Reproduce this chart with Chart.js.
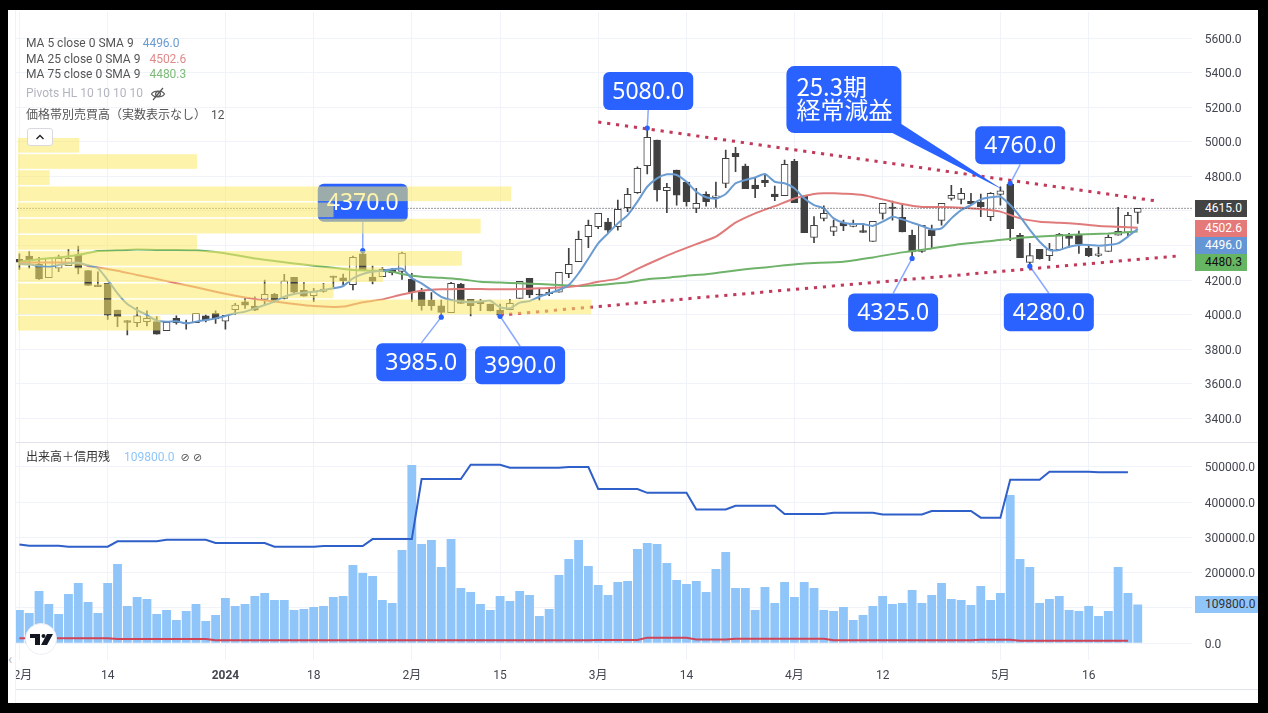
<!DOCTYPE html>
<html lang="ja">
<head>
<meta charset="utf-8">
<title>chart</title>
<script src="https://cdn.jsdelivr.net/npm/chart.js@4/dist/chart.umd.min.js"></script>
<style>
  html, body { margin: 0; padding: 0; background: #fff; width: 1268px; height: 713px; overflow: hidden; }
  canvas { position: absolute; left: 0; }
  #priceChart { top: 0; }
  #volumeChart { top: 433px; }
  .abs { position: absolute; white-space: nowrap; }
  .legend { font: 12px Roboto, sans-serif; color: #555; left: 26px; line-height: 14px; }
  .jp { font-family: 'Noto Sans CJK JP', sans-serif; }
  .tag { left: 1195px; width: 42px; padding-left: 10px; height: 17px; font: 12px/17px Roboto, sans-serif; color: #fff; }
  .rule { background: #e0e3eb; }
  .frame { background: #000; }
</style>
</head>
<body>
<canvas id="priceChart" width="1268" height="460"></canvas>
<canvas id="volumeChart" width="1268" height="256"></canvas>

<div class="abs rule" style="left:16px;top:442px;width:1242px;height:1px"></div>
<div class="abs rule" style="left:16px;top:689px;width:1242px;height:1px"></div>

<div class="abs legend" style="top:36px">MA 5 close 0 SMA 9 <span style="color:#6a9bd1;margin-left:6px">4496.0</span></div>
<div class="abs legend" style="top:52px">MA 25 close 0 SMA 9 <span style="color:#e08a8a;margin-left:6px">4502.6</span></div>
<div class="abs legend" style="top:67px">MA 75 close 0 SMA 9 <span style="color:#7dbb78;margin-left:6px">4480.3</span></div>
<div class="abs legend" style="top:86px;color:#b2b5be">Pivots HL 10 10 10 10</div>
<svg class="abs" style="left:150px;top:86px" width="16" height="16" viewBox="0 0 16 16" fill="none" stroke="#555" stroke-width="1.2">
  <path d="M1.5 8 C4 4 12 4 14.5 8 C12 12 4 12 1.5 8 Z"/><circle cx="8" cy="8" r="2.4"/><path d="M3 14 L13 2"/>
</svg>
<div class="abs legend jp" style="top:107px">価格帯別売買高（実数表示なし）<span style="font-family:Roboto;margin-left:5px">12</span></div>
<div class="abs" style="left:27px;top:128px;width:26px;height:18px;border:1px solid #d8dae0;border-radius:3px;background:#fff;box-sizing:border-box">
  <svg width="24" height="16" viewBox="0 0 24 16" fill="none" stroke="#222" stroke-width="1.4"><path d="M8.5 10 L12 6.5 L15.5 10"/></svg>
</div>
<div class="abs legend jp" style="top:449px;color:#333">出来高＋信用残<span style="font-family:Roboto;color:#90c5f9;margin-left:14px">109800.0</span><span style="font-family:'DejaVu Sans';font-size:11px;color:#555;margin-left:6px">⊘ ⊘</span></div>

<div class="abs tag" style="top:200px;background:#434343">4615.0</div>
<div class="abs tag" style="top:220px;background:#e57878">4502.6</div>
<div class="abs tag" style="top:237px;background:#6495d4">4496.0</div>
<div class="abs tag" style="top:254px;background:#66b563;color:#111">4480.3</div>
<div class="abs tag" style="top:596px;left:1195px;width:53px;background:#90c5f9;color:#333">109800.0</div>

<div class="abs" style="left:8px;top:10px;width:8px;height:693px;background:#fff;border-right:1px solid #f0f3fa;box-sizing:border-box"></div>
<div class="abs" style="left:8px;top:651px;font:14px Roboto,sans-serif;color:#b2b5be">‹</div>

<svg class="abs" style="left:25px;top:623px" width="32" height="32" viewBox="0 0 32 32">
  <circle cx="16" cy="16" r="15.5" fill="#fff" stroke="#eceef2"/>
  <path d="M5 11 H15 V22 H10 V15 H5 Z" fill="#131722"/><circle cx="18.5" cy="13" r="2" fill="#131722"/>
  <path d="M22 11 H28 L22 22 H16 Z" fill="#131722"/>
</svg>

<div class="abs frame" style="left:0;top:0;width:1268px;height:10px"></div>
<div class="abs frame" style="left:0;top:703px;width:1268px;height:10px"></div>
<div class="abs frame" style="left:0;top:0;width:8px;height:713px"></div>
<div class="abs frame" style="left:1258px;top:0;width:10px;height:713px"></div>

<script>
const categories = [
  '12/1','12/4','12/5','12/6','12/7','12/8','12/11','12/12','12/13','12/14','12/15','12/18','12/19','12/20','12/21','12/22','12/25','12/26','12/27','12/28','12/29',
  '1/4','1/5','1/9','1/10','1/11','1/12','1/15','1/16','1/17','1/18','1/19','1/22','1/23','1/24','1/25','1/26','1/29','1/30','1/31',
  '2/1','2/2','2/5','2/6','2/7','2/8','2/9','2/13','2/14','2/15','2/16','2/19','2/20','2/21','2/22','2/26','2/27','2/28','2/29',
  '3/1','3/4','3/5','3/6','3/7','3/8','3/11','3/12','3/13','3/14','3/15','3/18','3/19','3/21','3/22','3/25','3/26','3/27','3/28','3/29',
  '4/1','4/2','4/3','4/4','4/5','4/8','4/9','4/10','4/11','4/12','4/15','4/16','4/17','4/18','4/19','4/22','4/23','4/24','4/25','4/26','4/30',
  '5/1','5/2','5/7','5/8','5/9','5/10','5/13','5/14','5/15','5/16','5/17','5/20','5/21','5/22','5/23',
  '5/24','5/27','5/28','5/29','5/30'
];
const tickDates = ['12/1','12/14','1/4','1/18','2/1','2/15','3/1','3/14','4/1','4/12','5/1','5/16'];
const tickNames = ['12月','14','2024','18','2月','15','3月','14','4月','12','5月','16'];
const priceTicks = [3400,3600,3800,4000,4200,4400,4600,4800,5000,5200,5400,5600];
const volumeTicks = [0,100000,200000,300000,400000,500000];

const opens = [
  4320,4339,4293,4213,4268,4283,4347,4254,4171,4181,
  4026,3965,3953,3959,3959,3907,3978,3953,3953,3992,
  4007,3961,4028,4073,4049,4088,4117,4094,4215,4140,
  4109,4134,4223,4213,4173,4351,4217,4219,4262,4250,
  4206,4132,4082,4051,4011,4177,4088,4078,4061,4026,
  4028,4094,4210,4119,4129,4129,4237,4306,4451,4509,
  4536,4509,4619,4706,4862,5011,4717,4837,4767,4615,
  4696,4677,4760,4933,4860,4750,4779,4698,4688,4887,
  4686,4447,4557,4482,4528,4511,4486,4424,4586,4623,
  4563,4459,4366,4490,4545,4673,4667,4655,4650,4567,
  4696,4754,4459,4302,4378,4341,4376,4453,4464,4383,
  4343,4366,4459,4476,4592
];
const highs = [
  4351,4364,4331,4325,4345,4378,4397,4254,4248,4181,
  4026,3965,4042,4022,3988,3955,3992,3968,4007,3997,
  4022,3995,4065,4094,4103,4200,4123,4233,4215,4185,
  4152,4181,4223,4235,4339,4370,4281,4273,4268,4362,
  4239,4152,4127,4084,4186,4181,4088,4088,4061,4061,
  4088,4192,4210,4148,4156,4244,4383,4484,4547,4586,
  4557,4663,4731,4856,5080,5011,4760,4837,4767,4731,
  4711,4767,4953,4968,4872,4794,4808,4744,4895,4899,
  4686,4567,4630,4547,4547,4547,4524,4540,4644,4657,
  4640,4489,4517,4518,4644,4748,4731,4702,4698,4706,
  4740,4760,4470,4412,4378,4412,4470,4470,4484,4403,
  4389,4461,4621,4592,4615
];
const lows = [
  4262,4268,4204,4213,4248,4283,4235,4169,4161,3972,
  3930,3882,3930,3934,3887,3907,3945,3916,3953,3957,
  3949,3916,4001,4036,4022,4055,4071,4090,4127,4107,
  4075,4130,4158,4171,4142,4254,4177,4219,4229,4204,
  4075,4026,4026,3985,4011,4065,3992,4022,4021,3990,
  4028,4094,4098,4084,4109,4129,4213,4306,4387,4497,
  4470,4489,4596,4702,4814,4657,4590,4634,4628,4590,
  4628,4621,4735,4827,4729,4677,4740,4659,4688,4648,
  4474,4416,4542,4457,4486,4507,4476,4424,4553,4547,
  4478,4325,4360,4383,4518,4663,4640,4638,4567,4544,
  4634,4428,4329,4280,4320,4312,4370,4389,4354,4335,
  4335,4366,4459,4455,4528
];
const closes = [
  4304,4316,4206,4325,4325,4325,4268,4169,4161,3997,
  3988,3955,3992,3978,3887,3955,3953,3947,4007,3968,
  3974,3995,4055,4055,4026,4117,4078,4196,4130,4107,
  4136,4148,4215,4196,4331,4254,4194,4262,4242,4356,
  4129,4051,4051,4013,4181,4065,4051,4063,4021,3997,
  4065,4192,4113,4113,4121,4244,4291,4435,4517,4586,
  4489,4609,4696,4847,5026,4721,4737,4692,4654,4644,
  4654,4688,4904,4914,4729,4729,4764,4682,4870,4648,
  4474,4517,4586,4509,4513,4524,4476,4540,4644,4615,
  4478,4362,4517,4457,4644,4690,4702,4642,4625,4702,
  4717,4497,4329,4341,4324,4378,4464,4441,4408,4341,
  4352,4447,4482,4574,4615
];

const ma5 = [
  4293,4291,4281,4277,4287,4297,4300,4285,4268,4200,
  4123,4061,4026,3997,3965,3959,3961,3949,3959,3968,
  3978,3992,4007,4017,4036,4055,4075,4103,4119,4127,
  4132,4142,4152,4165,4210,4235,4248,4254,4262,4266,
  4210,4181,4142,4103,4084,4075,4071,4075,4080,4042,
  4036,4069,4078,4103,4123,4142,4171,4239,4325,4412,
  4470,4528,4576,4654,4740,4789,4812,4808,4769,4711,
  4679,4671,4698,4760,4779,4794,4814,4769,4760,4731,
  4673,4634,4615,4557,4532,4524,4524,4513,4538,4567,
  4551,4532,4513,4493,4499,4557,4605,4634,4667,4679,
  4682,4634,4567,4490,4422,4374,4374,4393,4403,4403,
  4399,4403,4412,4451,4496
];
const ma25Idx = [0,3,6,7,8,10,12,14,16,18,20,22,24,26,28,30,32,33,35,37,39,41,43,45,47,49,51,53,55,57,59,61,63,65,67,69,71,73,75,77,79,80,81,82,83,84,86,88,90,92,94,96,98,100,102,104,106,108,110,112,114];
const ma25Vals = [4300,4302,4300,4281,4273,4254,4229,4206,4181,4158,4132,4109,4090,4075,4061,4049,4044,4046,4071,4088,4116,4138,4146,4148,4148,4146,4148,4152,4156,4167,4190,4208,4264,4316,4364,4408,4451,4532,4586,4628,4672,4686,4698,4702,4702,4700,4692,4667,4640,4623,4623,4619,4611,4596,4557,4538,4532,4524,4513,4509,4502.6];
const ma75Idx = [0,2,4,6,8,10,12,14,16,18,20,22,24,26,28,30,32,34,36,38,39,41,43,45,47,49,51,53,55,57,59,61,62,64,66,68,70,72,74,76,78,80,84,87,90,93,96,99,102,105,108,111,114];
const ma75Vals = [4306,4320,4331,4345,4368,4372,4376,4374,4374,4372,4362,4345,4325,4310,4296,4283,4271,4258,4254,4248,4235,4219,4213,4204,4190,4185,4181,4177,4171,4165,4171,4181,4185,4204,4213,4225,4233,4248,4262,4273,4285,4296,4306,4331,4360,4383,4408,4426,4445,4455,4464,4470,4480.3];

const trendUpperIdx = [59,116];
const trendUpperVals = [5115,4657];
const trendLowerIdx = [49,118];
const trendLowerVals = [3997,4339];

// 価格帯別売買高, 12 rows from the bottom up
const profileLows = [3899,3993,4086,4180,4274,4367,4461,4555,4648,4742,4835,4929];
const profileStep = 93.6;
const profileVols = [124,490,271,313,380,155,396,271,422,30,155,55];

const calloutDates = ['1/25','2/6','2/15','3/8','5/2','4/17','5/8'];
const calloutPrices = [4370,3985,3990,5080,4760,4325,4280];

const volumes = [
  94300,85800,148100,111300,83000,139600,170800,117000,85800,170800,
  224500,105700,131100,125500,83000,94300,66000,91500,111300,63200,
  80200,128300,105700,111300,134000,142500,122600,122600,94300,97200,
  102800,105700,131100,134000,221700,199100,190600,122600,114200,264200,
  504700,281100,292500,216000,295300,156600,145300,111300,94300,134000,
  119800,148100,136800,77400,97200,193400,238700,292500,218900,165100,
  136800,173600,176400,267000,284000,281100,227400,179200,167900,176400,
  145300,210400,258500,156600,156600,94300,159400,114200,173600,131100,
  173600,156600,94300,91500,102800,66000,80200,105700,134000,111300,
  114200,150900,114200,136800,170800,125500,122600,108500,162300,122600,
  142500,419800,238700,216000,114200,125500,134000,94300,91500,105700,
  77400,91500,216000,142500,109800
];
const marginBuy = [
  280000,276000,276000,276000,276000,273600,273600,273600,273600,273600,
  288700,288700,288700,288700,288700,293000,293000,293000,293000,293000,
  284000,284000,284000,284000,284000,284000,273600,273600,273600,273600,
  273600,275400,275400,275400,275400,275400,295000,295000,295000,295000,
  295000,465000,465000,465000,465000,465000,505700,505700,505700,505700,
  497000,497000,497000,497000,497000,497000,499000,499000,499000,437000,
  437000,437000,437000,437000,426000,426000,426000,426000,426000,379000,
  379000,379000,379000,389600,389600,389600,389600,389600,366000,366000,
  366000,366000,366000,369700,369700,369700,369700,369700,365000,365000,
  365000,365000,365000,374600,374600,374600,374600,374600,355600,355600,
  355600,463000,463000,463000,463000,486000,486000,486000,486000,486000,
  484000,484000,484000,484000
];
const marginSell = [
  14100,14100,14100,14100,14100,14100,14100,14100,14100,14100,
  12300,12300,12300,12300,12300,12300,12300,12300,12300,12300,
  8500,8500,8500,8500,8500,8500,8500,8500,8500,8500,
  8500,8500,8500,8500,8500,8500,8500,8500,8500,8500,
  8500,8500,8500,8500,8500,8500,8500,8500,8500,8500,
  8500,8500,8500,8500,8500,8500,8500,8500,8500,9400,
  9400,9400,9400,9400,16000,16000,16000,16000,16000,11000,
  11000,11000,11000,13000,13000,13000,13000,13000,13000,13000,
  13000,13000,13000,8500,8500,8500,8500,8500,8500,8500,
  8500,8500,8500,8500,8500,8500,8500,8500,9900,9900,
  9900,9900,7300,7300,7300,7300,7300,7300,7300,7300,
  7300,7300,7300,7300
];

const DARK = '#404040';
const GRID = '#f0f3fa';
const AXIS_TEXT = '#434651';
const BLUE_BOX = '#2962ff';

function fromReadings(idx, vals) {
  const out = new Array(categories.length).fill(null);
  idx.forEach((k, i) => { out[k] = vals[i]; });
  return out;
}

function maLine(data, color, order) {
  return { type: 'line', data, borderColor: color, borderWidth: 2, pointRadius: 0, spanGaps: true, tension: 0.2, order };
}

function trendLine(idx, vals) {
  return { type: 'line', data: fromReadings(idx, vals), borderColor: '#c23a5a', borderWidth: 3, borderDash: [3.2, 5.8], pointRadius: 0, spanGaps: true, order: 0 };
}

function xAxis(showLabels) {
  return {
    offset: true,
    afterBuildTicks: s => { s.ticks = s.ticks.filter(t => tickDates.includes(categories[t.value])); },
    afterFit: s => { s.height = showLabels ? 29 : 0; },
    border: { display: false },
    grid: { color: GRID, offset: false, tickLength: 9, tickColor: 'transparent' },
    ticks: {
      display: showLabels,
      autoSkip: false,
      maxRotation: 0,
      padding: 0,
      color: AXIS_TEXT,
      font: ctx => ({ size: 12, family: 'Roboto, "Noto Sans CJK JP"', weight: ctx.tick && ctx.tick.label === '2024' ? 'bold' : 'normal' }),
      callback: v => tickNames[tickDates.indexOf(categories[v])]
    }
  };
}

function yAxis(min, max, tickVals) {
  return {
    position: 'right',
    min, max,
    afterBuildTicks: s => { s.ticks = tickVals.map(value => ({ value })); },
    afterFit: s => { s.width = 76.3; },
    border: { display: false },
    grid: { color: GRID, tickLength: 13, tickColor: 'transparent' },
    ticks: { padding: 0, labelOffset: 1.5, color: AXIS_TEXT, font: { size: 12, family: 'Roboto' }, callback: v => v.toFixed(1) }
  };
}

// the callouts sit under the yellow profile, the profile sits over the candles
const calloutOffsets = [[-45,-67],[-65,26],[-25,30],[-44,-56],[-35,-57],[-64,35],[-26,27]];

const overlayPlugin = {
  id: 'overlay',
  afterDatasetsDraw(chart) {
    const { ctx, chartArea, scales } = chart;
    const x = scales.x, y = scales.y, xp = scales.xProfile;
    ctx.save();

    // last price line
    const lastY = y.getPixelForValue(closes[closes.length - 1]);
    ctx.strokeStyle = '#333';
    ctx.lineWidth = 1;
    ctx.setLineDash([1, 2]);
    ctx.beginPath();
    ctx.moveTo(chartArea.left, lastY);
    ctx.lineTo(chartArea.right, lastY);
    ctx.stroke();
    ctx.setLineDash([]);

    // price callouts
    calloutPrices.forEach((price, i) => {
      const px = x.getPixelForValue(categories.indexOf(calloutDates[i]));
      const py = y.getPixelForValue(price);
      const bx = px + calloutOffsets[i][0];
      const by = py + calloutOffsets[i][1];
      const above = by < py;
      ctx.strokeStyle = 'rgba(41,98,255,0.55)';
      ctx.lineWidth = 1.5;
      ctx.beginPath();
      ctx.moveTo(px, py);
      ctx.lineTo(bx + 45, above ? by + 38 : by);
      ctx.stroke();
      ctx.fillStyle = BLUE_BOX;
      ctx.beginPath();
      ctx.arc(px, py, 2.6, 0, Math.PI * 2);
      ctx.fill();
      ctx.beginPath();
      ctx.roundRect(bx, by, 90, 38, 6);
      ctx.fill();
      ctx.fillStyle = '#fff';
      ctx.font = '23px "Noto Sans"';
      ctx.textAlign = 'center';
      ctx.textBaseline = 'middle';
      ctx.fillText(price.toFixed(1), bx + 45, by + 20);
    });

    // 25.3期 note
    const tipX = x.getPixelForValue(categories.indexOf('5/1')) + 3;
    const tipY = y.getPixelForValue(4721);
    const nx = tipX - 217, ny = tipY - 124;
    ctx.fillStyle = BLUE_BOX;
    ctx.beginPath();
    ctx.roundRect(nx, ny, 115, 67, 8);
    ctx.fill();
    ctx.beginPath();
    ctx.moveTo(nx + 106, ny + 67);
    ctx.lineTo(tipX, tipY);
    ctx.lineTo(nx + 115, ny + 58);
    ctx.closePath();
    ctx.fill();
    ctx.fillStyle = '#fff';
    ctx.font = '24px "Noto Sans CJK JP"';
    ctx.textAlign = 'left';
    ctx.textBaseline = 'middle';
    ctx.fillText('25.3期', nx + 10, ny + 21);
    ctx.fillText('経常減益', nx + 10, ny + 44);

    // volume profile
    ctx.fillStyle = 'rgba(251,233,100,0.55)';
    profileLows.forEach((low, i) => {
      const top = y.getPixelForValue(low + profileStep);
      const bottom = y.getPixelForValue(low);
      const left = xp.getPixelForValue(3);
      ctx.fillRect(left, top, xp.getPixelForValue(profileVols[i]) - left, bottom - top - 1.5);
    });
    ctx.restore();
  }
};

Chart.defaults.animation = false;
Chart.defaults.events = [];
Chart.defaults.plugins.legend.display = false;
Chart.defaults.plugins.tooltip.enabled = false;

new Chart(document.getElementById('priceChart'), {
  type: 'bar',
  data: {
    labels: categories,
    datasets: [
      { data: lows.map((l, i) => [l, highs[i]]), backgroundColor: DARK, barThickness: 1, grouped: false, order: 6 },
      {
        data: opens.map((o, i) => [o, closes[i]]),
        backgroundColor: opens.map((o, i) => (closes[i] >= o ? '#fff' : DARK)),
        borderColor: DARK, borderWidth: 1, borderSkipped: false, barThickness: 7, grouped: false, order: 5
      },
      maLine(fromReadings(ma75Idx, ma75Vals), '#6fb36a', 4),
      maLine(fromReadings(ma25Idx, ma25Vals), '#e07b7b', 3),
      maLine(ma5, '#6a9bd1', 2),
      trendLine(trendUpperIdx, trendUpperVals),
      trendLine(trendLowerIdx, trendLowerVals)
    ]
  },
  options: {
    responsive: false,
    layout: { padding: { left: 14.5, top: 12, right: 0, bottom: 18 } },
    scales: {
      x: xAxis(false),
      xProfile: { type: 'linear', display: false, offset: false, min: 0, max: 1000 },
      y: yAxis(3262, 5752, priceTicks)
    }
  },
  plugins: [overlayPlugin]
});

new Chart(document.getElementById('volumeChart'), {
  type: 'bar',
  data: {
    labels: categories,
    datasets: [
      { data: volumes, backgroundColor: '#90c5f9', categoryPercentage: 1, barPercentage: 0.9, order: 3 },
      { type: 'line', data: marginBuy, borderColor: '#2f5fc8', borderWidth: 2, pointRadius: 0, order: 2 },
      { type: 'line', data: marginSell, borderColor: '#d04455', borderWidth: 2, pointRadius: 0, order: 1 }
    ]
  },
  options: {
    responsive: false,
    layout: { padding: { left: 14.5, top: 10, right: 0, bottom: 0 } },
    scales: { x: xAxis(true), y: yAxis(-47300, 567100, volumeTicks) }
  }
});
</script>
</body>
</html>
